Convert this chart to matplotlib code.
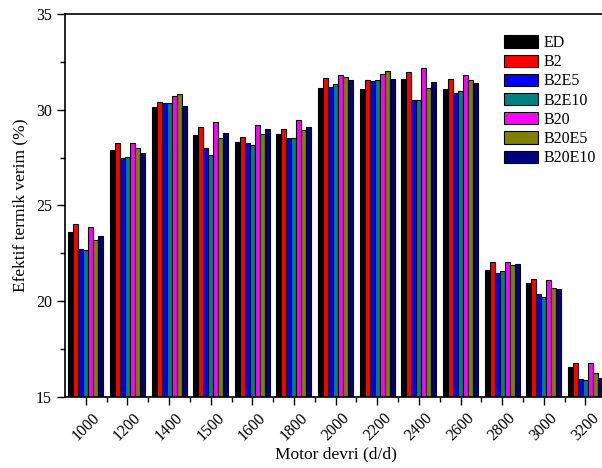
import numpy as np
import matplotlib.pyplot as plt
from matplotlib.ticker import MultipleLocator

plt.rcParams['font.family'] = ['Liberation Serif', 'DejaVu Serif']

rpm = ['1000', '1200', '1400', '1500', '1600', '1800', '2000',
       '2200', '2400', '2600', '2800', '3000', '3200']
fuels = ['ED', 'B2', 'B2E5', 'B2E10', 'B20', 'B20E5', 'B20E10']
colors = ['#000000', '#ff0000', '#0000ff', '#008080', '#ff00ff', '#808000', '#000080']

ed = [23.60, 27.90, 30.12, 28.70, 28.33, 28.72, 31.16, 31.06, 31.60, 31.10, 21.63, 20.97, 16.57]
b2 = [24.02, 28.27, 30.41, 29.08, 28.60, 29.00, 31.65, 31.56, 31.96, 31.63, 22.07, 21.18, 16.78]
b2e5 = [22.73, 27.50, 30.34, 28.00, 28.28, 28.54, 31.18, 31.51, 30.51, 30.88, 21.47, 20.38, 15.94]
b2e10 = [22.66, 27.55, 30.34, 27.65, 28.18, 28.53, 31.32, 31.56, 30.51, 30.98, 21.58, 20.20, 15.87]
b20 = [23.85, 28.24, 30.72, 29.35, 29.20, 29.47, 31.84, 31.87, 32.20, 31.84, 22.02, 21.10, 16.78]
b20e5 = [23.18, 28.00, 30.83, 28.50, 28.75, 28.96, 31.72, 32.03, 31.16, 31.56, 21.88, 20.69, 16.24]
b20e10 = [23.43, 27.75, 30.20, 28.78, 28.98, 29.12, 31.53, 31.63, 31.46, 31.42, 21.96, 20.62, 15.96]

series = [ed, b2, b2e5, b2e10, b20, b20e5, b20e10]

fig = plt.figure(figsize=(6.02, 4.68), dpi=100)
ax = fig.add_axes([0.108, 0.152, 0.899, 0.818])

x = np.arange(len(rpm))
w = 0.12
for i, (vals, c, name) in enumerate(zip(series, colors, fuels)):
    ax.bar(x + (i - 3) * w, vals, width=w, color=c, edgecolor='black',
           linewidth=0.8, label=name, zorder=2)

ax.set_ylim(15, 35)
ax.set_xlim(-0.5, 12.5)
ax.yaxis.set_major_locator(MultipleLocator(5))
ax.yaxis.set_minor_locator(MultipleLocator(2.5))
ax.set_xticks(x)
ax.set_xticks(x[:-1] + 0.5, minor=True)
ax.set_xticklabels(rpm, rotation=45, fontsize=11.5)
ax.tick_params(axis='y', labelsize=11.5)
ax.tick_params(which='major', direction='out', length=6, width=1)
ax.tick_params(which='minor', direction='out', length=3.5, width=1)
ax.tick_params(top=False, right=False, which='both')
for s in ax.spines.values():
    s.set_linewidth(1.2)

ax.set_xlabel('Motor devri (d/d)', fontsize=12.5, labelpad=2)
ax.set_ylabel('Efektif termik verim (%)', fontsize=12.5, labelpad=5)

ax.legend(loc='upper right', bbox_to_anchor=(0.998, 0.97), frameon=False,
          fontsize=11.5, handlelength=2.15, handleheight=0.8,
          labelspacing=0.2, handletextpad=0.3, borderaxespad=0.2)

fig.savefig('out.png', dpi=100)
